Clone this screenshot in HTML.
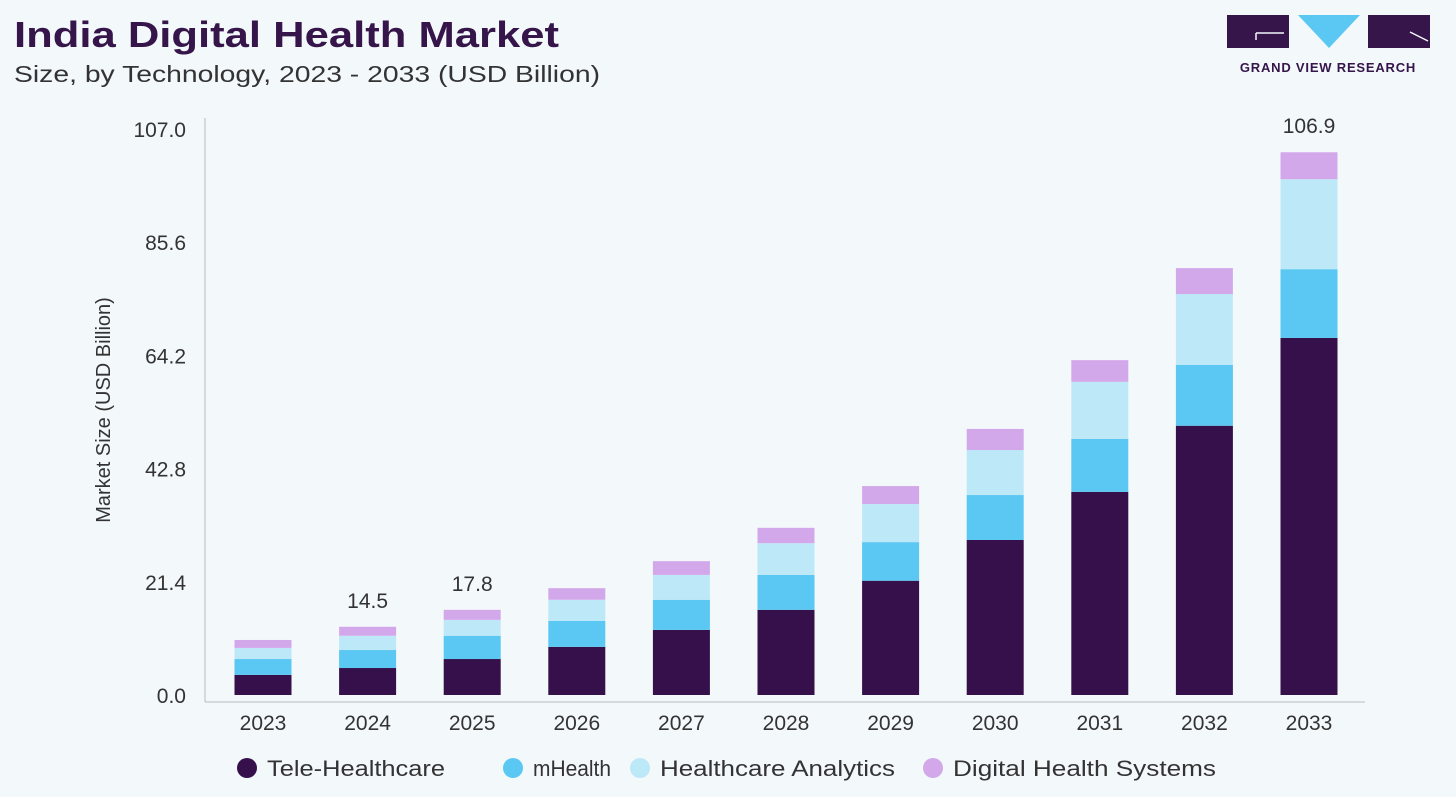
<!DOCTYPE html>
<html><head><meta charset="utf-8"><style>
body{margin:0;background:#f3f8fb;width:1456px;height:797px;overflow:hidden;font-family:"Liberation Sans",sans-serif}
svg{display:block}
</style></head><body>
<svg id="c" width="1456" height="797">
<text x="14" y="47" font-family="Liberation Sans" font-weight="bold" font-size="36" fill="#35154a" textLength="545" lengthAdjust="spacingAndGlyphs">India Digital Health Market</text>
<text x="14" y="82" font-size="23" fill="#333" textLength="586" lengthAdjust="spacingAndGlyphs">Size, by Technology, 2023 - 2033 (USD Billion)</text>
<g>
<rect x="1227" y="15" width="62" height="33" fill="#35154a"/>
<path d="M1256 33 h28 M1256 33 v7" stroke="#f3f8fb" stroke-width="1.5" fill="none"/>
<polygon points="1298,15 1360,15 1329,48" fill="#5ac8f2"/>
<rect x="1368" y="15" width="62" height="33" fill="#35154a"/>
<path d="M1410 32 l18 9" stroke="#f3f8fb" stroke-width="1.5"/>
<text x="1328" y="72" font-size="13" font-weight="bold" fill="#35154a" text-anchor="middle" letter-spacing="0.8">GRAND VIEW RESEARCH</text>
</g>
<text transform="translate(110,410) rotate(-90)" text-anchor="middle" font-size="20" fill="#333">Market Size (USD Billion)</text>
<line x1="205" y1="118" x2="205" y2="702" stroke="#bbb"/>
<line x1="205" y1="702" x2="1365" y2="702" stroke="#bbb"/>
<g id="g"></g>
</svg>
<script>
const categories=["2023","2024","2025","2026","2027","2028","2029","2030","2031","2032","2033"];
const teleHealthcare=[3.8,5.1,6.8,9.1,12.3,16.1,21.6,29.3,38.4,50.9,67.5];
const mHealth=[3.0,3.4,4.4,4.9,5.7,6.6,7.3,8.5,10.0,11.5,13.0];
const healthcareAnalytics=[2.1,2.7,3.0,4.0,4.7,6.0,7.2,8.5,10.8,13.4,17.0];
const digitalHealthSystems=[1.5,1.7,1.9,2.2,2.6,2.9,3.4,4.0,4.1,4.9,5.1];
const totalLabels=["","14.5","17.8","","","","","","","","106.9"];
const yTicks=[0,21.4,42.8,64.2,85.6,107.0];
const seriesNames=["Tele-Healthcare","mHealth","Healthcare Analytics","Digital Health Systems"];
const colors=["#35104a","#5ac8f2","#bde8f8","#d3a8ea"];
const series=[teleHealthcare,mHealth,healthcareAnalytics,digitalHealthSystems];
const NS="http://www.w3.org/2000/svg",g=document.getElementById('g');
const y0=695,k=5.29,x0=263,dx=104.6,bw=57;
const y=v=>y0-v*k, x=i=>x0+i*dx;
function mk(t,a,txt){const e=document.createElementNS(NS,t);for(const n in a)e.setAttribute(n,a[n]);if(txt!=null)e.textContent=txt;g.appendChild(e);return e;}
yTicks.forEach(v=>{const e=mk('text',{x:186,y:y(v)+8,'text-anchor':'end','font-size':21,fill:'#333'},v.toFixed(1));

});
categories.forEach((c,i)=>{let acc=0;
series.forEach((s,j)=>{const r=mk('rect',{x:x(i)-bw/2,y:y(acc+s[i]),width:bw,height:s[i]*k,fill:colors[j]});


acc+=s[i];});
if(totalLabels[i]){const t=mk('text',{x:x(i),y:y(acc)-19,'text-anchor':'middle','font-size':21,fill:'#333'},totalLabels[i]);

}
const t=mk('text',{x:x(i),y:730,'text-anchor':'middle','font-size':21,fill:'#333'},c);

});
const lx=[247,513,640,933];
const lw=[178,78,235,263];
seriesNames.forEach((n,j)=>{const c=mk('circle',{cx:lx[j],cy:768,r:10,fill:colors[j]});


const t=mk('text',{x:lx[j]+20,y:776,'font-size':22,fill:'#333',textLength:lw[j],lengthAdjust:'spacingAndGlyphs'},n);

});
</script>
</body></html>
